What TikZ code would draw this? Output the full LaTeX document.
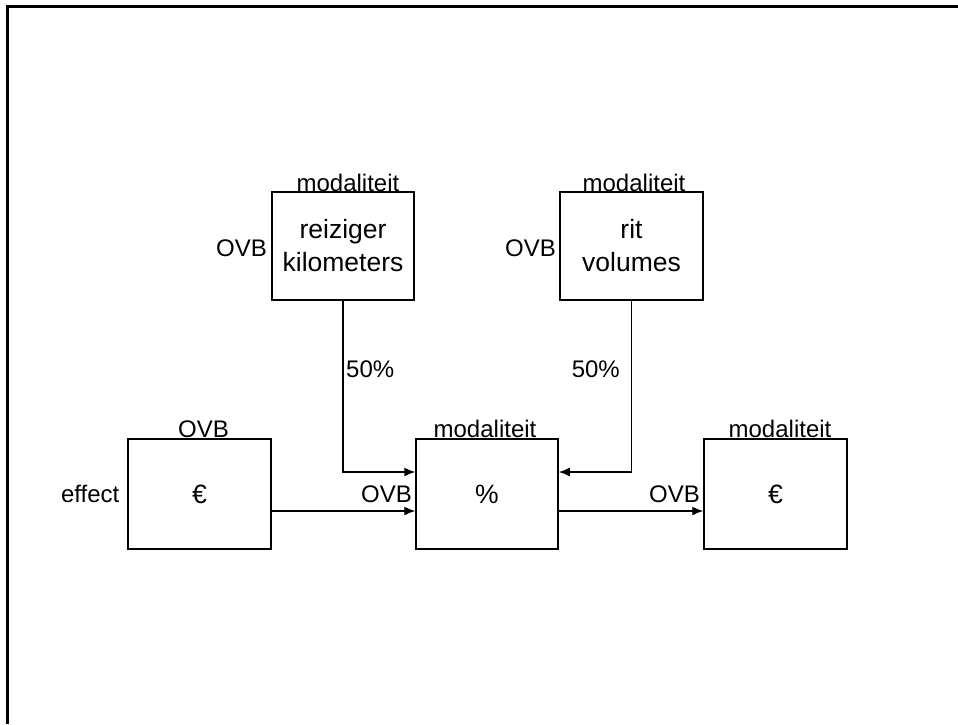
\documentclass[tikz,border=0pt]{standalone}
\usepackage{fontspec}
\setmainfont{Liberation Sans}
\usetikzlibrary{arrows.meta}
\tikzset{
  box/.style={draw, line width=1.5pt, inner sep=0pt, align=center,
    font=\fontsize{26.5}{33}\selectfont},
  lbl/.style={inner sep=0pt, font=\fontsize{24}{28}\selectfont},
  arr/.style={line width=1.4pt, -{Latex[length=11pt,width=9pt]}},
}
\begin{document}
\begin{tikzpicture}[x=1pt,y=-1pt]
\useasboundingbox (0,0) rectangle (958,724);
\draw[line width=2.8pt] (7.2,724) -- (7.2,6.3) -- (958,6.3);
% boxes
\node[box, minimum width=142pt, minimum height=108pt] (rk) at (343,246) {reiziger\\kilometers};
\node[box, minimum width=143pt, minimum height=108pt] (rv) at (631.5,246) {rit\\volumes};
\node[box, minimum width=143pt, minimum height=110pt] (le) at (199.5,494) {€};
\node[box, minimum width=142pt, minimum height=110pt] (mid) at (487,494) {\%};
\node[box, minimum width=143pt, minimum height=110pt] (re) at (775.5,494) {€};
% labels
\node[lbl, anchor=base] (m1) at (348,191) {modaliteit};
\node[lbl, anchor=base] (m2) at (634,191) {modaliteit};
\node[lbl, anchor=base] (m3) at (485,437) {modaliteit};
\node[lbl, anchor=base] (m4) at (780,437) {modaliteit};
\node[lbl, anchor=base] (o1) at (203.5,437) {OVB};
\node[lbl, anchor=base east] (o2) at (267,256) {OVB};
\node[lbl, anchor=base east] (o3) at (556,256) {OVB};
\node[lbl, anchor=base east] (o4) at (412,502) {OVB};
\node[lbl, anchor=base east] (o5) at (700,502) {OVB};
\node[lbl, anchor=base east] (ef) at (119.5,502) {effect};
\node[lbl, anchor=base west] (p1) at (346,377) {50\%};
\node[lbl, anchor=base east] (p2) at (620,377) {50\%};
% connectors
\draw[arr] (rk.south) |- ([yshift=22pt]mid.west);
\draw[arr] (rv.south) |- ([yshift=22pt]mid.east);
\draw[arr] ([yshift=-17pt]le.east) -- ([yshift=-17pt]mid.west);
\draw[arr] ([yshift=-17pt]mid.east) -- ([yshift=-17pt]re.west);
\end{tikzpicture}
\end{document}
